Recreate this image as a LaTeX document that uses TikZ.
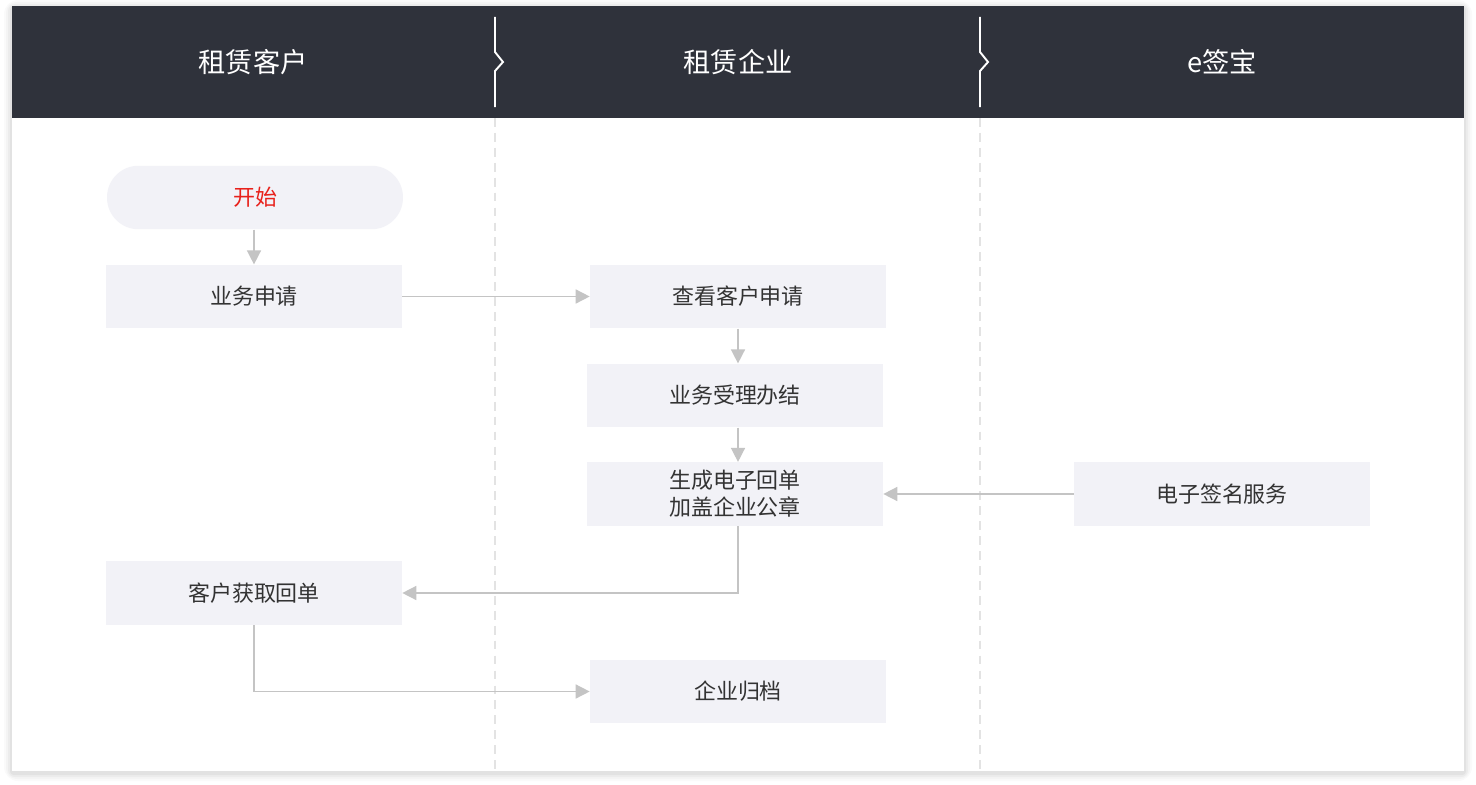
\documentclass[tikz,border=0pt]{standalone}
\usepackage{fontspec}
\setmainfont{Noto Sans CJK SC}
\usetikzlibrary{arrows.meta,positioning}

\begin{document}
\begin{tikzpicture}[x=0.02cm, y=-0.02cm, >={Triangle[length=8pt,width=8pt]}, every node/.style={font=\fontsize{12.5}{15.5}\selectfont}, box/.style={fill=BoxFill, text=Ink, minimum width=5.92cm, minimum height=1.27cm, inner sep=0pt, align=center}, lane/.style={Lane, line width=0.8pt, dash pattern=on 5pt off 3.5pt}, flow/.style={->, draw=Arrow, line width=0.85pt}, head/.style={text=white, font=\fontsize{15.5}{18}\selectfont}]
\definecolor{Header}{HTML}{2F323B}\definecolor{BoxFill}{HTML}{F2F2F7}\definecolor{Ink}{HTML}{333333}\definecolor{Arrow}{HTML}{C4C4C4}\definecolor{Lane}{HTML}{E3E3E3}\definecolor{StartRed}{HTML}{E8211B}
\useasboundingbox (0,0) rectangle (1476,784);
\fill[white] (0,0) rectangle (1476,784);
\foreach \s/\o in {8/.018,6/.025,4/.032,2/.04} \fill[black, opacity=\o, rounded corners=\s] (12-\s,6-\s+2) rectangle (1464+\s,771+\s+2);
\fill[white] (12,6) rectangle (1464,771);
\fill[Header] (12,6) rectangle (1464,118);
\foreach \x in {495,980} {
  \draw[white, line width=1.1pt] (\x,17)--(\x,52)--(\x+8,62)--(\x,71)--(\x,107);
  \draw[lane] (\x,118)--(\x,771);
}
\node[head] (lanecust) at (253,62) {租赁客户};
\node[head] (lanefirm) at (738,62) {租赁企业};
\node[head] (laneesign) at (1222,62) {e签宝};
% steps
\node[box, rounded corners=0.63cm, text=StartRed] (start) at (255,197.5) {开始};
\node[box] (apply) at (254,296.5) {业务申请};
\node[box] (review) at (738,296.5) {查看客户申请};
\node[box] (handle) at (735,395.5) {业务受理办结};
\node[box] (receipt) at (735,494) {生成电子回单\\加盖企业公章};
\node[box] (esign) at (1222,494) {电子签名服务};
\node[box] (fetch) at (254,593) {客户获取回单};
\node[box] (archive) at (738,691.5) {企业归档};
% flow
\draw[flow] (start.south -| apply.north) -- (apply.north);
\draw[flow] (apply) -- (review);
\draw[flow] (review.south) -- (review.south |- handle.north);
\draw[flow] (handle.south -| review.south) -- (receipt.north -| review.south);
\draw[flow] (esign) -- (receipt);
\draw[flow] (receipt.south -| review.south) |- (fetch);
\draw[flow] (fetch) |- (archive);
\end{tikzpicture}
\end{document}
